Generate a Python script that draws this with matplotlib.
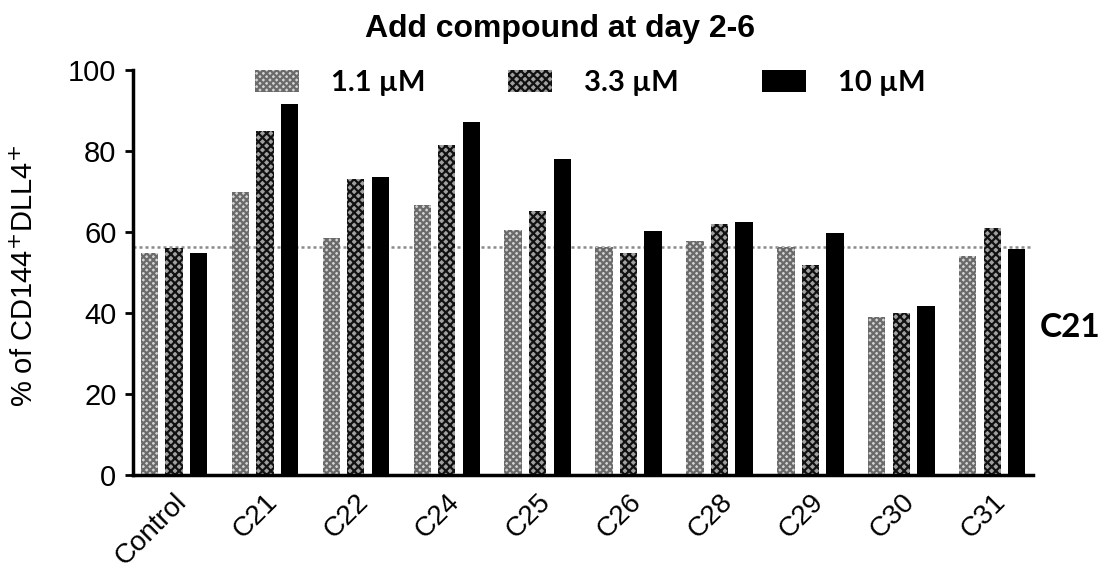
import matplotlib
matplotlib.use("Agg")
import matplotlib.pyplot as plt
import numpy as np

# data
groups = ["Control", "C21", "C22", "C24", "C25", "C26", "C28", "C29", "C30", "C31"]
conc_labels = ["1.1 \u00b5M", "3.3 \u00b5M", "10 \u00b5M"]
v_1_1 = [54.8, 70.0, 58.6, 66.7, 60.5, 56.4, 57.8, 56.4, 38.9, 54.1]
v_3_3 = [56.0, 85.0, 73.0, 81.6, 65.2, 54.7, 61.9, 51.9, 39.9, 60.9]
v_10 = [54.8, 91.5, 73.7, 87.2, 78.0, 60.2, 62.5, 59.7, 41.7, 55.7]
control_level = 56.4
y_ticks = [0, 20, 40, 60, 80, 100]

plt.rcParams["font.family"] = ["Liberation Sans", "DejaVu Sans"]
plt.rcParams["hatch.linewidth"] = 1.6

fig = plt.figure(figsize=(11.05, 5.74), dpi=100)
ax = fig.add_axes([0.1204, 0.1725, 0.8146, 0.7055])

x = np.arange(len(groups))
off = 0.27
w = 0.19
styles = [
    dict(facecolor="#d4d4d4", edgecolor="#6a6a6a", hatch="xxxxx"),
    dict(facecolor="#a0a0a0", edgecolor="#111111", hatch="xxxx"),
    dict(facecolor="black", edgecolor="black", hatch=None),
]
for vals, dx, st, lab in zip([v_1_1, v_3_3, v_10], [-off, 0, off], styles, conc_labels):
    ax.bar(x + dx, vals, width=w, linewidth=0, label=lab, **st)

ax.axhline(control_level, color="#8a8a8a", ls=(0, (1.2, 1.2)), lw=1.8, zorder=0)

ax.set_xlim(-0.45, len(groups) - 0.55)
ax.set_ylim(0, 100)
ax.set_yticks(y_ticks)
ax.set_xticks(x)
ax.set_xticklabels(groups, rotation=45, ha="right", rotation_mode="anchor")
ax.tick_params(axis="y", labelsize=21, length=6, width=2, pad=6)
ax.tick_params(axis="x", labelsize=20, length=0, pad=10)
for s in ["top", "right"]:
    ax.spines[s].set_visible(False)
for s in ["left", "bottom"]:
    ax.spines[s].set_linewidth(2.5)

leg = ax.legend(
    loc="upper left", bbox_to_anchor=(255 / 1105, 1 - 70 / 574),
    bbox_transform=fig.transFigure, ncol=3, frameon=False,
    prop=dict(family="Lato", weight="bold", size=21),
    handlelength=1.5, handleheight=0.75, handletextpad=1.1,
    columnspacing=2.85, borderpad=0, borderaxespad=0,
)

fig.text(0.507, 0.95, "Add compound at day 2-6", ha="center", va="center",
         fontsize=23, fontweight="bold")
fig.text(0.023, 0.52, r"% of CD144$^{+}$DLL4$^{+}$", rotation=90,
         ha="center", va="center", fontsize=21)
fig.text(0.941, 0.43, "C21", ha="left", va="center", fontsize=24,
         fontweight="bold", family="Lato")

fig.savefig("out.png", dpi=100)
